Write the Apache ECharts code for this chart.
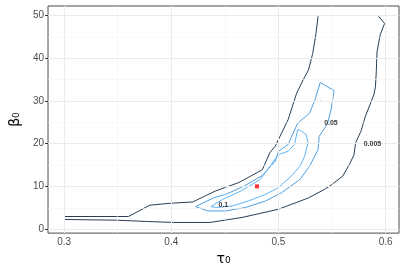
<!DOCTYPE html>
<html>
<head>
<meta charset="utf-8">
<script src="https://cdn.jsdelivr.net/npm/echarts@6/dist/echarts.min.js"></script>
<style>
html,body{margin:0;padding:0;background:#fff;}
#c{width:407px;height:271px;}
</style>
</head>
<body>
<div id="c"></div>
<script>
// ---- data ----
const xTicks = [0.3, 0.4, 0.5, 0.6];
const xMinor = [0.35, 0.45, 0.55];
const yTicks = [0, 10, 20, 30, 40, 50];
const yMinor = [5, 15, 25, 35, 45];

// contour level 0.005, upper-left branch
const c005a = [[0.3,2.95],[0.36,2.95],[0.38,5.6],[0.399,6.05],[0.42,6.35],[0.441,8.9],[0.463,10.9],[0.485,13.9],[0.492,17.9],[0.497,19.4],[0.503,22.5],[0.509,25.6],[0.517,31.8],[0.523,34.9],[0.528,37.2],[0.532,41.1],[0.535,45.7],[0.537,49.8]];
// contour level 0.005, lower-right branch
const c005b = [[0.3,2.26],[0.349,2.09],[0.377,1.79],[0.402,1.56],[0.436,1.56],[0.466,2.72],[0.5,4.65],[0.528,7.3],[0.543,9.3],[0.548,10.1],[0.56,12.4],[0.567,15.5],[0.5705,17.4],[0.572,20.2],[0.577,22.9],[0.581,26.3],[0.586,29.5],[0.589,31.4],[0.5905,33.3],[0.5913,36.8],[0.592,41.5],[0.595,45.5],[0.599,48.1],[0.5935,49.8]];
// contour level 0.05
const c05 = [[0.4227,5.28],[0.44,7.37],[0.451,8.14],[0.468,10.07],[0.485,12.56],[0.497,15.88],[0.5,18.2],[0.509,19.8],[0.518,24.8],[0.529,27.1],[0.534,30.2],[0.539,34.3],[0.552,32.4],[0.549,27.9],[0.546,24.8],[0.538,21.7],[0.537,18.6],[0.529,14.7],[0.52,11.6],[0.503,8.53],[0.488,6.58],[0.469,5.05],[0.451,4.26],[0.434,4.26],[0.4227,5.28]];
// contour level 0.1
const c01 = [[0.437,5.28],[0.448,6.98],[0.465,8.91],[0.483,11.63],[0.491,14.35],[0.5,17.44],[0.509,18.2],[0.515,19.8],[0.518,23.3],[0.521,23.0],[0.526,22.1],[0.5276,20.2],[0.5245,17.05],[0.52,14.7],[0.512,12.4],[0.5,9.7],[0.488,8.14],[0.472,6.58],[0.457,5.42],[0.442,5.05],[0.437,5.28]];
const c01dot = [[0.5388,29.9],[0.5395,30.1],[0.5392,29.9]];

const labelText = ['0.005', '0.05', '0.1'];
const labelPos = [[0.5877,20.0],[0.549,24.9],[0.4486,5.6]];

const estPoint = [[0.48, 10]];

// ---- chart ----
const xMin = 0.285, xMax = 0.6125, yMin = -0.93, yMax = 52.2;
const FONT = 'Liberation Sans, Arial, sans-serif';
const chart = echarts.init(document.getElementById('c'), null, {renderer: 'canvas'});

function lineSeries(data, color, z) {
  return {type: 'line', data: data, showSymbol: false, symbol: 'none', smooth: false, silent: true,
    lineStyle: {color: color, width: 1}, z: z, animation: false};
}

const gridLines = [];
xMinor.forEach(v => gridLines.push({xAxis: v, lineStyle: {color: '#f3f3f3', width: 0.6, type: 'solid'}}));
yMinor.forEach(v => gridLines.push({yAxis: v, lineStyle: {color: '#f3f3f3', width: 0.6, type: 'solid'}}));
xTicks.forEach(v => gridLines.push({xAxis: v, lineStyle: {color: '#ebebeb', width: 1, type: 'solid'}}));
yTicks.forEach(v => gridLines.push({yAxis: v, lineStyle: {color: '#ebebeb', width: 1, type: 'solid'}}));

const option = {
  animation: false,
  backgroundColor: '#fff',
  grid: {left: 43, right: 8, top: 6, bottom: 37, show: true, borderColor: '#4d4d4d', borderWidth: 1, backgroundColor: 'transparent', containLabel: false},
  xAxis: {
    type: 'value', min: xMin, max: xMax,
    name: 'τ₀', nameLocation: 'middle', nameGap: 12,
    nameTextStyle: {fontFamily: 'DejaVu Sans, sans-serif', fontSize: 14, color: '#000'},
    axisLine: {show: false},
    axisTick: {show: true, customValues: xTicks, length: 3, lineStyle: {color: '#333'}},
    axisLabel: {customValues: xTicks, fontFamily: FONT, fontSize: 10, color: '#4d4d4d', margin: 4},
    splitLine: {show: false}
  },
  yAxis: {
    type: 'value', min: yMin, max: yMax,
    name: 'β₀', nameLocation: 'middle', nameGap: 25, nameRotate: 90,
    nameTextStyle: {fontFamily: 'DejaVu Sans, sans-serif', fontSize: 14, color: '#000'},
    axisLine: {show: false},
    axisTick: {show: true, customValues: yTicks, length: 3, lineStyle: {color: '#333'}},
    axisLabel: {customValues: yTicks, fontFamily: FONT, fontSize: 10, color: '#4d4d4d', margin: 4},
    splitLine: {show: false}
  },
  series: [
    {type: 'line', data: [], silent: true, z: 0,
      markLine: {silent: true, symbol: ['none','none'], label: {show: false}, animation: false,
        lineStyle: {type: 'solid'}, data: gridLines}},
    lineSeries(c005a, '#2a3f55', 2),
    lineSeries(c005b, '#2a3f55', 2),
    lineSeries(c05, '#4f9fe0', 3),
    lineSeries(c01, '#5eb5f7', 4),
    lineSeries(c01dot, '#5eb5f7', 4),
    {type: 'scatter', data: estPoint, symbol: 'rect', symbolSize: 4, itemStyle: {color: '#ff0000'}, z: 6, silent: true},
    {type: 'scatter', symbolSize: 0, silent: true, z: 7,
      data: labelPos.map((p, i) => ({value: p, name: labelText[i]})),
      label: {show: true, position: 'inside', formatter: p => p.name, fontFamily: FONT, fontSize: 7, fontWeight: 'bold', color: '#000'}}
  ]
};
chart.setOption(option);
</script>
</body>
</html>
